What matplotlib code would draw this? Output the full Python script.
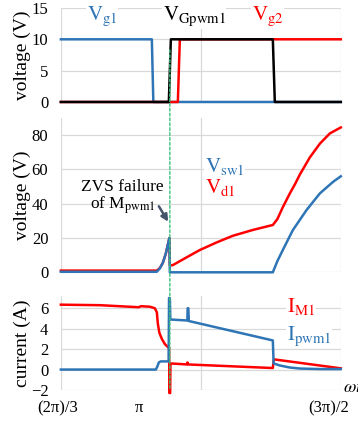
import matplotlib
matplotlib.use("Agg")
import matplotlib.pyplot as plt
from matplotlib.patches import ConnectionPatch
from matplotlib.transforms import blended_transform_factory

plt.rcParams['font.family'] = ['Liberation Serif', 'DejaVu Serif']
plt.rcParams['mathtext.fontset'] = 'stix'

BLUE = '#2E75B6'
RED = '#FF0000'
GRID = '#D9D9D9'

# angle in degrees (wt)
vg1_x = [120, 168.75, 169.55, 270]
vg1_y = [10, 10, 0, 0]
vgpwm_x = [120, 177.86, 178.93, 233.57, 234.64, 270]
vgpwm_y = [0, 0, 10, 10, 0, 0]
vg2_x = [120, 182.68, 183.75, 270]
vg2_y = [0, 0, 10, 10]

vd1_x = [120, 171.43, 173.04, 174.64, 176.25, 178.13, 178.39, 180.0, 187.34,
         194.46, 203.41, 212.14, 222.86, 233.57, 236.0, 238.93, 242.68,
         245.5, 248.04, 253.39, 258.75, 264.11, 270]
vd1_y = [1.0, 1.0, 2.5, 5.5, 11, 20, 4, 4.2, 8.7, 13, 17.4, 21.3, 24.7, 27.6,
         31, 38, 46, 51.5, 57, 67, 75, 81, 84.5]
vsw1_x = [120, 171.43, 173.04, 174.64, 176.25, 178.13, 178.39, 233.57, 236.0,
          238.93, 244.29, 251.63, 258.75, 265.88, 270]
vsw1_y = [0.3, 0.3, 2.3, 5.5, 11, 20, 0, 0, 6.5, 13, 24.6, 36.3, 46, 52.8, 56]

im1_x = [120, 140.89, 161.79, 162.86, 167.68, 170.36, 171.43, 171.96, 172.77,
         174.11, 175.71, 177.32, 178.02, 178.13, 178.55, 178.71, 187.5,
         187.87, 188.2, 233.57, 234.11, 270]
im1_y = [6.35, 6.3, 6.1, 6.2, 6.15, 6.0, 5.6, 4.5, 3.6, 3.0, 2.5, 2.2, 2.1,
         -2.3, -2.3, 0.6, 0.5, 0.7, 0.5, 0.15, 1.0, 0.12]
ipwm_x = [120, 170.89, 171.7, 172.5, 173.57, 177.75, 177.96, 178.39, 178.66,
          187.77, 187.93, 188.30, 188.57, 233.57, 234.0, 237.32, 242.68,
          248.04, 258.75, 270]
ipwm_y = [0, 0, 0.3, 0.7, 0.8, 0.8, 7.0, 7.0, 4.9, 4.8, 6.0, 6.0, 4.75, 2.85,
          0.6, 0.4, 0.2, 0.1, 0.05, 0.05]

zvs_angle = 178.4
xtick_pos = [118.4, 161.8, 263.6]
xtick_labels = ['(2π)/3', 'π', '(3π)/2']

fig = plt.figure(figsize=(3.58, 4.26), dpi=100)
ax1 = fig.add_axes([0.170, 0.7606, 0.782, 0.2207])
ax2 = fig.add_axes([0.170, 0.3608, 0.782, 0.3622])
ax3 = fig.add_axes([0.170, 0.0845, 0.782, 0.2207])

for ax, ticks, lim in [(ax1, [0, 5, 10, 15], (0, 15)),
                       (ax2, [0, 20, 40, 60, 80], (0, 90)),
                       (ax3, [-2, 0, 2, 4, 6], (-2, 7.2))]:
    ax.set_xlim(120, 270)
    ax.set_ylim(*lim)
    ax.set_yticks(ticks)
    ax.set_xticks([120, 195, 270])
    ax.set_xticklabels([])
    ax.tick_params(length=0, labelsize=12, pad=9)
    ax.grid(color=GRID, lw=0.9)
    ax.set_axisbelow(True)
    for s in ax.spines.values():
        s.set_visible(False)
    ax.yaxis.set_label_coords(-0.105, 0.5)

tb = dict(fc='white', ec='none', pad=0.5)

ax1.plot(vg1_x, vg1_y, color=BLUE, lw=1.8, clip_on=False)
ax1.plot(vg2_x, vg2_y, color=RED, lw=1.8, clip_on=False)
ax1.plot(vgpwm_x, vgpwm_y, color='black', lw=1.8, clip_on=False)
ax1.set_ylabel('voltage (V)', fontsize=14)
ax1.text(133.9, 13.6, r'$\mathrm{V_{g1}}$', color=BLUE, fontsize=15, va='center', bbox=tb)
ax1.text(174.6, 13.6, r'$\mathrm{V_{Gpwm1}}$', color='black', fontsize=15, va='center', bbox=tb)
ax1.text(222.3, 13.6, r'$\mathrm{V_{g2}}$', color=RED, fontsize=15, va='center', bbox=tb)

ax2.plot(vd1_x, vd1_y, color=RED, lw=1.8, clip_on=False)
ax2.plot(vsw1_x, vsw1_y, color=BLUE, lw=1.8, clip_on=False)
ax2.set_ylabel('voltage (V)', fontsize=14)
ax2.text(197.1, 49.3, r'$\mathrm{V_{d1}}$', color=RED, fontsize=15, va='center')
ax2.text(197.1, 61.8, r'$\mathrm{V_{sw1}}$', color=BLUE, fontsize=15, va='center', bbox=tb)
ax2.text(153.0, 39.0, r'of M$_\mathrm{pwm1}$', fontsize=12.5, ha='center', va='center')
ax2.text(152.8, 50.0, 'ZVS failure', fontsize=12.5, ha='center', va='center', bbox=tb)
ax2.annotate('', xy=(177.5, 29.5), xytext=(172.5, 38.5),
             arrowprops=dict(arrowstyle='-|>', color='#44546A', lw=1.8,
                             mutation_scale=10, shrinkA=0, shrinkB=0))

ax3.plot(im1_x, im1_y, color=RED, lw=1.8, clip_on=False)
ax3.plot(ipwm_x, ipwm_y, color=BLUE, lw=1.8, clip_on=False)
ax3.set_ylabel('current (A)', fontsize=14)
ax3.text(241.1, 6.2, r'$\mathrm{I_{M1}}$', color=RED, fontsize=15, va='center', bbox=tb)
ax3.text(241.1, 3.3, r'$\mathrm{I_{pwm1}}$', color=BLUE, fontsize=15, va='center', bbox=tb)
ax3.text(271.1, -1.75, r'$\omega t$', fontsize=13, va='center', clip_on=False)

trans = blended_transform_factory(ax3.transData, fig.transFigure)
for pos, lab in zip(xtick_pos, xtick_labels):
    ax3.text(pos, 0.042, lab, transform=trans, fontsize=12, ha='center', va='center')

line = ConnectionPatch(xyA=(zvs_angle, 8.3), coordsA=ax1.transData,
                       xyB=(zvs_angle, -2), coordsB=ax3.transData,
                       color='#3CC47A', lw=1.0, ls=(0, (2, 1.5)), zorder=5)
fig.add_artist(line)

fig.savefig('out.png', dpi=100)
